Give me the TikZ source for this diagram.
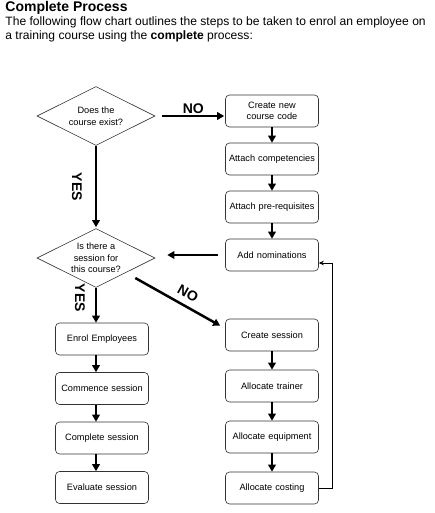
\documentclass[tikz,border=0pt]{standalone}
\usepackage{fontspec}
\setmainfont{Liberation Sans}
\usepackage{tikz}
\usetikzlibrary{arrows.meta}
\usetikzlibrary{shapes.geometric}
\usetikzlibrary{positioning}
\usetikzlibrary{calc}
\tikzset{
  % Arrow tip for the flow
  >={Triangle[length=7pt,width=7.5pt]},
  answer/.style={font=\fontsize{14}{16}\selectfont\bfseries, inner sep=0pt}
}

\begin{document}
\begin{tikzpicture}[x=1pt, y=1pt, node distance=48pt, thick]
    % Define styles
    \tikzstyle{block} = [rectangle, draw=black!80, line width=0.6pt, rounded corners=4pt, minimum width=93pt, minimum height=32pt, text width=92pt, align=center, inner sep=0.5pt, font=\fontsize{9.2}{11.5}\selectfont]
    \tikzstyle{decision} = [diamond, draw=black!80, line width=0.6pt, aspect=2, minimum width=118pt, minimum height=59pt, inner sep=0pt, align=center, font=\fontsize{9.2}{11.5}\selectfont]
    \tikzstyle{line} = [draw, line width=2.5pt, ->]
    \tikzstyle{loop} = [draw, line width=0.8pt, -{Stealth[length=5pt,width=4.5pt]}]

    \useasboundingbox (0,0) rectangle (434,-513);

    % Heading
    \node [anchor=north west, inner sep=0pt, font=\fontsize{14}{16}\selectfont\bfseries] (title) at (5,-1) {Complete Process};
    \node [anchor=north west, inner sep=0pt, align=left, font=\fontsize{12.1}{14.5}\selectfont] (intro) at (5,-16) {The following flow chart outlines the steps to be taken to enrol an employee on\\a training course using the \textbf{complete} process:};

    % Place nodes
    \node [decision] (exist) at (96,-116) {Does the\\course exist?};
    \node [block] (create) at (272,-111) {Create new\\course code};
    \node [block, below of=create] (compet) {Attach competencies};
    \node [block, below of=compet] (prereq) {Attach pre-requisites};
    \node [block, below of=prereq] (nominate) {Add nominations};
    \node [decision] (session) at (96,-258) {Is there a\\session for\\this course?};
    \node [block] (enrol) at (102,-339) {Enrol Employees};
    \node [block, below of=enrol, node distance=49.5pt] (commence) {Commence session};
    \node [block, below of=commence, node distance=49.5pt] (complete) {Complete session};
    \node [block, below of=complete, node distance=49.5pt] (evaluate) {Evaluate session};
    \node [block] (csession) at (272,-335) {Create session};
    \node [block, below of=csession, node distance=51pt] (trainer) {Allocate trainer};
    \node [block, below of=trainer, node distance=51pt] (equip) {Allocate equipment};
    \node [block, below of=equip, node distance=51pt] (costing) {Allocate costing};

    % Draw edges
    \path [line] ([xshift=7pt]exist.east) -- ([xshift=-1pt]exist.east -| create.west) node [answer, midway, above=1.5pt] (no1) {NO};
    \path [line] (exist.south) -- ([yshift=1pt]session.north);
    \node [answer, rotate=-90] (yes1) at (77,-187) {YES};
    \path [line] (create) -- (compet);
    \path [line] (compet) -- (prereq);
    \path [line] (prereq) -- (nominate);
    \path [line] ([xshift=-7pt]nominate.west) -- ([xshift=12pt]nominate.west -| session.east);
    \path [line] (session.south) -- (session.south |- enrol.north);
    \node [answer, rotate=-90] (yes2) at (80,-298) {YES};
    \path [line] ([shift={(-20,-20)}]session.east) -- ([shift={(-5,-7)}]csession.north west) node [answer, sloped, above=6pt, pos=0.55] (no2) {NO};
    \path [line] (enrol.south -| session.south) -- (commence.north -| session.south);
    \path [line] (commence.south -| session.south) -- (complete.north -| session.south);
    \path [line] (complete.south -| session.south) -- (evaluate.north -| session.south);
    \path [line] (csession) -- (trainer);
    \path [line] (trainer) -- (equip);
    \path [line] (equip) -- (costing);
    \path [loop] (costing.east) -- ++(14,0) |- ([yshift=-8pt]nominate.east);

\end{tikzpicture}
\end{document}
